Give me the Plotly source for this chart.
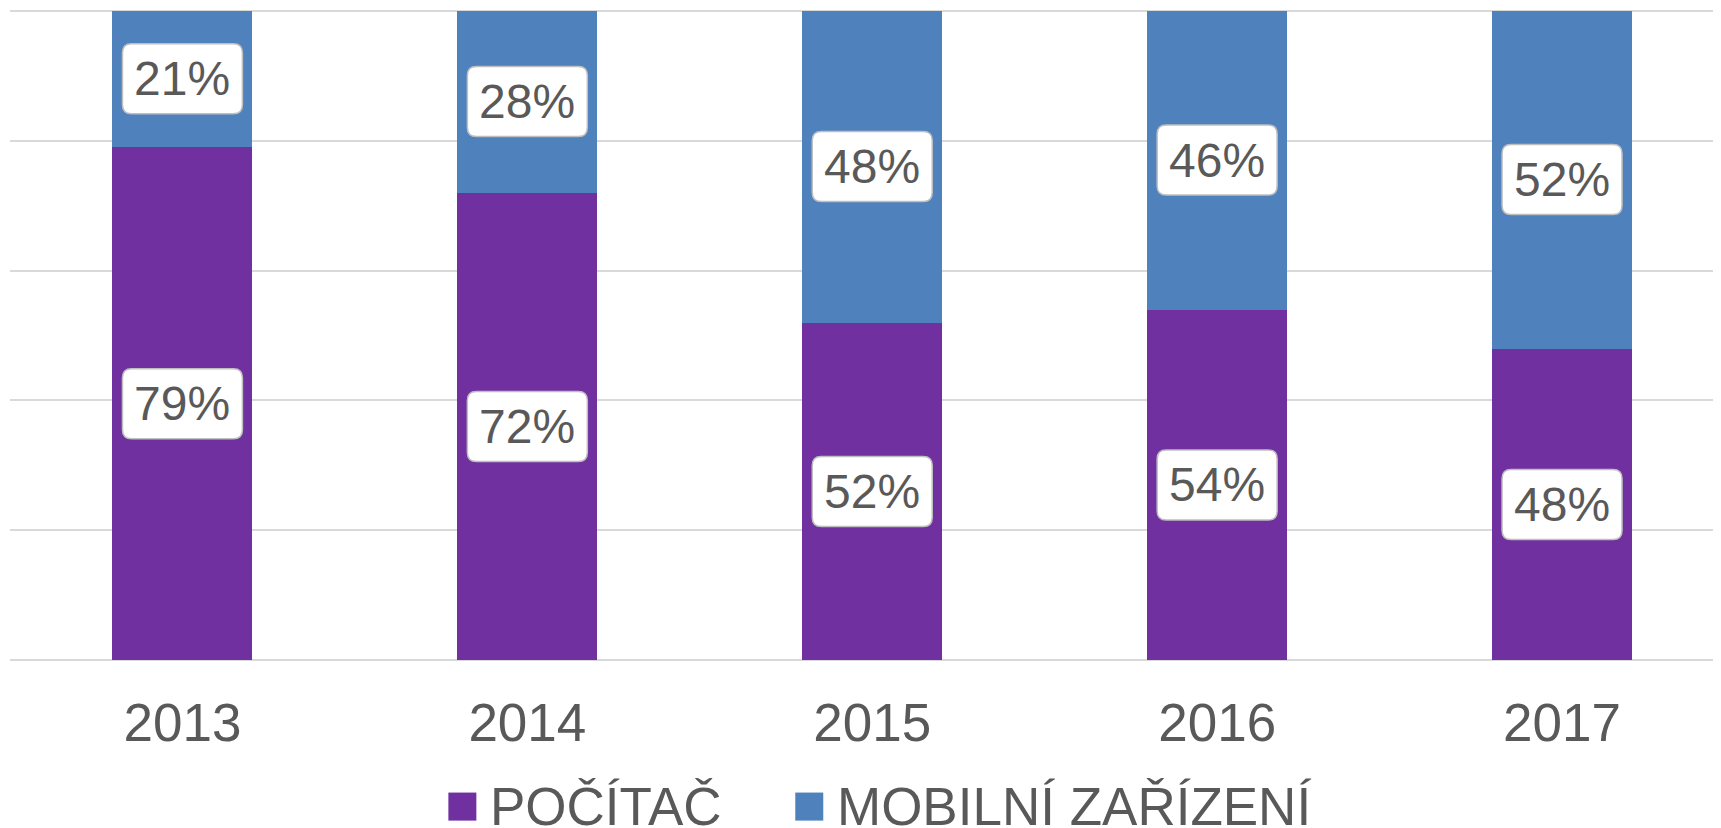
import plotly.graph_objects as go

years = ["2013", "2014", "2015", "2016", "2017"]
pocitac = [79, 72, 52, 54, 48]
mobilni = [21, 28, 48, 46, 52]
series_names = ["POČÍTAČ", "MOBILNÍ ZAŘÍZENÍ"]
colors = ["#7030A0", "#4F81BD"]
gridvals = [0, 0.2, 0.4, 0.6, 0.8, 1.0]

# page body has an 8px default margin; figure sized to fit the window
W, H = 1713, 820
unit_px = 649.0          # pixels for 100 %
e = 0.004                # small range padding so end gridlines are drawn
ml, mr = 1.5, 0
mt = 3 - unit_px * e
mb = 168 - unit_px * e
pw = W - ml - mr
ph = H - mt - mb
cat_px = 345.0
x_range = [-0.5, -0.5 + pw / cat_px]
xpos = list(range(len(years)))

fig = go.Figure()
for name, vals, col in zip(series_names, [pocitac, mobilni], colors):
    fig.add_trace(go.Bar(
        x=xpos, y=[v / 100 for v in vals], name=name,
        marker=dict(color=col, line=dict(width=0)),
        showlegend=False, hoverinfo="skip",
    ))

font_fam = "Liberation Sans, Arial, sans-serif"

# rounded label boxes (in data units of the axes)
bw, bh, rad = 120 / cat_px, 70 / unit_px, 9
rx, ry = rad / cat_px, rad / unit_px

def rounded_box(cx, cy):
    x0, x1 = cx - bw / 2, cx + bw / 2
    y0, y1 = cy - bh / 2, cy + bh / 2
    return (f"M {x0+rx},{y0} L {x1-rx},{y0} Q {x1},{y0} {x1},{y0+ry} "
            f"L {x1},{y1-ry} Q {x1},{y1} {x1-rx},{y1} "
            f"L {x0+rx},{y1} Q {x0},{y1} {x0},{y1-ry} "
            f"L {x0},{y0+ry} Q {x0},{y0} {x0+rx},{y0} Z")

for i in xpos:
    base = 0
    for vals in [pocitac, mobilni]:
        v = vals[i]
        cy = (base + v / 2) / 100
        fig.add_shape(type="path", xref="x", yref="y", path=rounded_box(i, cy),
                      fillcolor="white", line=dict(color="#BFBFBF", width=1.5),
                      layer="above")
        fig.add_annotation(
            x=i, y=cy, xref="x", yref="y",
            text=f"{v}%", showarrow=False,
            font=dict(family=font_fam, size=48, color="#595959"),
            xanchor="center", yanchor="middle",
        )
        base += v

# custom legend (large square symbols)
def px_to_paper_x(px):
    return (px - 8 - ml) / pw

def px_to_paper_y(py):
    return (H - mb - (py - 8)) / ph

legend_items = [(448, series_names[0], colors[0]), (795, series_names[1], colors[1])]
sq = 28
lcy = 806
for x0, name, col in legend_items:
    fig.add_shape(type="rect", xref="paper", yref="paper",
                  x0=px_to_paper_x(x0), x1=px_to_paper_x(x0 + sq),
                  y0=px_to_paper_y(lcy + sq / 2), y1=px_to_paper_y(lcy - sq / 2),
                  fillcolor=col, line=dict(width=0), layer="above")
    fig.add_annotation(x=px_to_paper_x(x0 + sq + 12), y=px_to_paper_y(lcy),
                       xref="paper", yref="paper", text=name, showarrow=False,
                       xanchor="left", yanchor="middle",
                       font=dict(family=font_fam, size=53, color="#595959"))

fig.update_layout(
    width=W, height=H,
    margin=dict(l=ml, r=mr, t=mt, b=mb, pad=0),
    barmode="stack", bargap=1 - 140 / cat_px,
    plot_bgcolor="white", paper_bgcolor="white",
    showlegend=False,
    font=dict(family=font_fam, color="#595959"),
)
fig.update_xaxes(
    range=x_range, tickvals=xpos, ticktext=years,
    showgrid=False, showline=False,
    zeroline=False, ticks="", tickfont=dict(size=53, color="#595959"),
    ticklabelstandoff=int(round(27 - unit_px * e)),
)
fig.update_yaxes(
    range=[-e, 1 + e], tickvals=gridvals, showticklabels=False, showgrid=True,
    gridcolor="#D9D9D9", gridwidth=1.5, zeroline=False, showline=False,
)

fig.write_html("out.html")
